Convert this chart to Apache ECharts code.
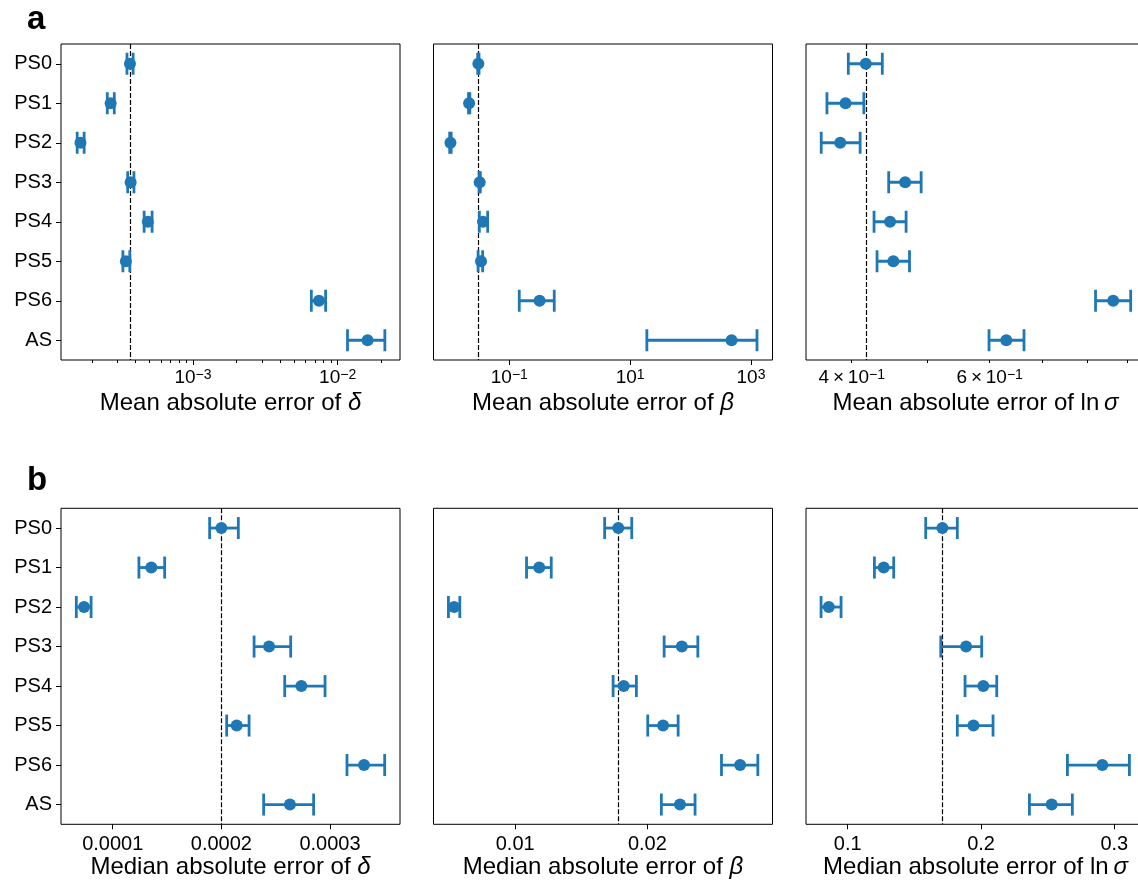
<!DOCTYPE html>
<html>
<head>
<meta charset="utf-8">
<script src="https://cdn.jsdelivr.net/npm/echarts@6/dist/echarts.min.js"></script>
<style>
  html, body { margin: 0; padding: 0; background: #fff; }
  #chart { width: 1138px; height: 884px; }
</style>
</head>
<body>
<div id="chart"></div>
<script>
const categories = ['PS0', 'PS1', 'PS2', 'PS3', 'PS4', 'PS5', 'PS6', 'AS'];

// a: mean absolute errors
const meanDelta   = [3.67e-4, 2.70e-4, 1.67e-4, 3.71e-4, 4.88e-4, 3.44e-4, 7.43e-3, 1.61e-2];
const meanDeltaLo = [3.50e-4, 2.56e-4, 1.585e-4, 3.54e-4, 4.60e-4, 3.28e-4, 6.58e-3, 1.17e-2];
const meanDeltaHi = [3.86e-4, 2.86e-4, 1.77e-4, 3.91e-4, 5.22e-4, 3.66e-4, 8.26e-3, 2.12e-2];

const meanBeta   = [0.0307, 0.0216, 0.0106, 0.0323, 0.0367, 0.0340, 0.317, 477];
const meanBetaLo = [0.0300, 0.0211, 0.0103, 0.0316, 0.0319, 0.0304, 0.146, 18.9];
const meanBetaHi = [0.0315, 0.0222, 0.0109, 0.0331, 0.0438, 0.0362, 0.554, 1257];

const meanSigma   = [0.4169, 0.3928, 0.3867, 0.4680, 0.4477, 0.4520, 0.8625, 0.6300];
const meanSigmaLo = [0.3960, 0.3719, 0.3657, 0.4459, 0.4271, 0.4309, 0.8189, 0.5988];
const meanSigmaHi = [0.4376, 0.4145, 0.4100, 0.4905, 0.4693, 0.4740, 0.9080, 0.6636];

// b: median absolute errors
const medDelta   = [0.0002000, 0.0001355, 0.0000736, 0.0002439, 0.0002736, 0.0002141, 0.0003313, 0.0002631];
const medDeltaLo = [0.0001892, 0.0001241, 0.0000665, 0.0002301, 0.0002583, 0.0002049, 0.0003156, 0.0002389];
const medDeltaHi = [0.0002156, 0.0001478, 0.0000801, 0.0002638, 0.0002954, 0.0002255, 0.0003503, 0.0002849];

const medBeta   = [0.01780, 0.01182, 0.00538, 0.02261, 0.01821, 0.02119, 0.02702, 0.02247];
const medBetaLo = [0.01677, 0.01086, 0.00495, 0.02127, 0.01741, 0.02003, 0.02561, 0.02106];
const medBetaHi = [0.01882, 0.01273, 0.00581, 0.02382, 0.01917, 0.02233, 0.02836, 0.02361];

const medSigma   = [0.1710, 0.1270, 0.0858, 0.1888, 0.2017, 0.1943, 0.2910, 0.2530];
const medSigmaLo = [0.1585, 0.1200, 0.0800, 0.1698, 0.1880, 0.1822, 0.2648, 0.2363];
const medSigmaHi = [0.1822, 0.1345, 0.0950, 0.2005, 0.2118, 0.2090, 0.3113, 0.2685];

const C0 = '#1f77b4';
const FONT = '"Liberation Sans", Arial, Helvetica, sans-serif';

const pow10Label = v => {
  const e = Math.round(v);
  return '{b|10}{s|' + (e < 0 ? '\u2212' : '') + Math.abs(e) + '}';
};
const mantissaLabel = v => {
  const m = Math.round(Math.pow(10, v) * 10);
  return '{b|' + m + '\u2009\u00d7\u200910}{s|\u22121}';
};

const decadeMinors = (lo, hi) => {
  const out = [];
  for (let e = Math.floor(Math.log10(lo)); e <= Math.ceil(Math.log10(hi)); e++) {
    for (let k = 2; k <= 9; k++) {
      const v = k * Math.pow(10, e);
      if (v > lo && v < hi) out.push(v);
    }
  }
  return out;
};

const panels = [
  { row: 0, col: 0, log: true, c: meanDelta, lo: meanDeltaLo, hi: meanDeltaHi,
    min: 1.225e-4, max: 0.02698, ticks: [1e-3, 1e-2], labels: [1e-3, 1e-2],
    minor: decadeMinors(1.225e-4, 0.02698), fmt: pow10Label,
    name: 'Mean absolute error of {i|\u03b4}' },
  { row: 0, col: 1, log: true, c: meanBeta, lo: meanBetaLo, hi: meanBetaHi,
    min: 0.00556, max: 2270, ticks: [0.1, 10, 1000], labels: [0.1, 10, 1000],
    minor: [], fmt: pow10Label,
    name: 'Mean absolute error of {i|\u03b2}' },
  { row: 0, col: 2, log: true, c: meanSigma, lo: meanSigmaLo, hi: meanSigmaHi,
    min: 0.3497, max: 0.947, ticks: [], labels: [0.4, 0.6],
    minor: [0.4, 0.5, 0.6, 0.7, 0.8, 0.9], fmt: mantissaLabel,
    name: 'Mean absolute error of ln\u2009{i|\u03c3}' },
  { row: 1, col: 0, log: false, c: medDelta, lo: medDeltaLo, hi: medDeltaHi,
    min: 0.0000524, max: 0.0003644, ticks: [0.0001, 0.0002, 0.0003], labels: [0.0001, 0.0002, 0.0003],
    minor: [], name: 'Median absolute error of {i|\u03b4}' },
  { row: 1, col: 1, log: false, c: medBeta, lo: medBetaLo, hi: medBetaHi,
    min: 0.00382, max: 0.02947, ticks: [0.01, 0.02], labels: [0.01, 0.02],
    minor: [], name: 'Median absolute error of {i|\u03b2}' },
  { row: 1, col: 2, log: false, c: medSigma, lo: medSigmaLo, hi: medSigmaHi,
    min: 0.0687, max: 0.323, ticks: [0.1, 0.2, 0.3], labels: [0.1, 0.2, 0.3],
    minor: [], name: 'Median absolute error of ln\u2009{i|\u03c3}' }
];

const colLeft = [61, 433.5, 806];
const rowTop = [44, 508.3];
const W = 339, H = 316;

const grid = [], xAxis = [], yAxis = [], series = [];

panels.forEach((p, i) => {
  const tx = p.log ? (v => Math.log10(v)) : (v => v);
  grid.push({
    left: colLeft[p.col], top: rowTop[p.row], width: W, height: H,
    show: true, borderColor: '#000', borderWidth: 1, backgroundColor: 'transparent',
    containLabel: false, outerBoundsMode: 'none'
  });
  yAxis.push({
    type: 'category', gridIndex: i, data: categories, inverse: true, boundaryGap: true,
    axisLine: { show: false },
    axisTick: { show: p.col === 0, alignWithLabel: true, length: 5, lineStyle: { color: '#000', width: 1 } },
    axisLabel: { show: p.col === 0, fontSize: 20, color: '#000', fontFamily: FONT, margin: 9 },
    splitLine: { show: false }
  });
  const mainX = xAxis.length;
  xAxis.push({
    type: 'value', gridIndex: i, position: 'bottom',
    min: tx(p.min), max: tx(p.max),
    axisLine: { show: false }, splitLine: { show: false },
    axisTick: { show: p.ticks.length > 0, customValues: p.ticks.map(tx), length: 5, lineStyle: { color: '#000', width: 1 } },
    axisLabel: {
      customValues: p.labels.map(tx), color: '#000', fontSize: 20, fontFamily: FONT,
      margin: p.log ? 8 : 10,
      formatter: p.fmt,
      rich: {
        b: { fontSize: 19, fontFamily: FONT, color: '#000', lineHeight: 19, padding: [5, 0, 0, 0], verticalAlign: 'bottom' },
        s: { fontSize: 14, fontFamily: FONT, color: '#000', lineHeight: 14, verticalAlign: 'top' }
      }
    },
    name: p.name, nameLocation: 'middle', nameGap: 31,
    nameTextStyle: {
      fontSize: 24, color: '#000', fontFamily: FONT,
      rich: { i: { fontSize: 24, color: '#000', fontFamily: FONT, fontStyle: 'italic' } }
    }
  });
  if (p.minor.length) {
    xAxis.push({
      type: 'value', gridIndex: i, position: 'bottom',
      min: tx(p.min), max: tx(p.max),
      axisLine: { show: false }, splitLine: { show: false }, axisLabel: { show: false },
      axisTick: { show: true, customValues: p.minor.map(tx), length: 3, lineStyle: { color: '#000', width: 1 } }
    });
  }
  series.push({
    type: 'custom', xAxisIndex: mainX, yAxisIndex: i, silent: true, z: 2,
    data: categories.map((c, k) => [tx(p.lo[k]), tx(p.hi[k]), k]),
    encode: { x: [0, 1], y: 2 },
    renderItem: (params, api) => {
      const a = api.coord([api.value(0), api.value(2)]);
      const b = api.coord([api.value(1), api.value(2)]);
      const cap = 11;
      const style = { stroke: C0, lineWidth: 2.8, fill: null };
      return {
        type: 'group',
        children: [
          { type: 'line', shape: { x1: a[0], y1: a[1], x2: b[0], y2: b[1] }, style },
          { type: 'line', shape: { x1: a[0], y1: a[1] - cap, x2: a[0], y2: a[1] + cap }, style },
          { type: 'line', shape: { x1: b[0], y1: b[1] - cap, x2: b[0], y2: b[1] + cap }, style }
        ]
      };
    }
  });
  series.push({
    type: 'scatter', xAxisIndex: mainX, yAxisIndex: i, z: 3, silent: true,
    symbol: 'circle', symbolSize: 12,
    itemStyle: { color: C0, opacity: 1 },
    data: categories.map((c, k) => [tx(p.c[k]), k]),
    markLine: {
      silent: true, symbol: 'none', label: { show: false }, animation: false, precision: 12, z: 1,
      lineStyle: { color: '#000', type: [5, 2], width: 1.2 },
      data: [{ xAxis: tx(p.c[0]) }]
    }
  });
});

const chart = echarts.init(document.getElementById('chart'), null, { renderer: 'canvas' });
chart.setOption({
  backgroundColor: '#fff',
  animation: false,
  grid, xAxis, yAxis, series,
  graphic: [
    { type: 'text', left: 27, top: 3, style: { text: 'a', font: 'bold 33px ' + FONT, fill: '#000' } },
    { type: 'text', left: 27, top: 464, style: { text: 'b', font: 'bold 33px ' + FONT, fill: '#000' } }
  ]
});
</script>
</body>
</html>
